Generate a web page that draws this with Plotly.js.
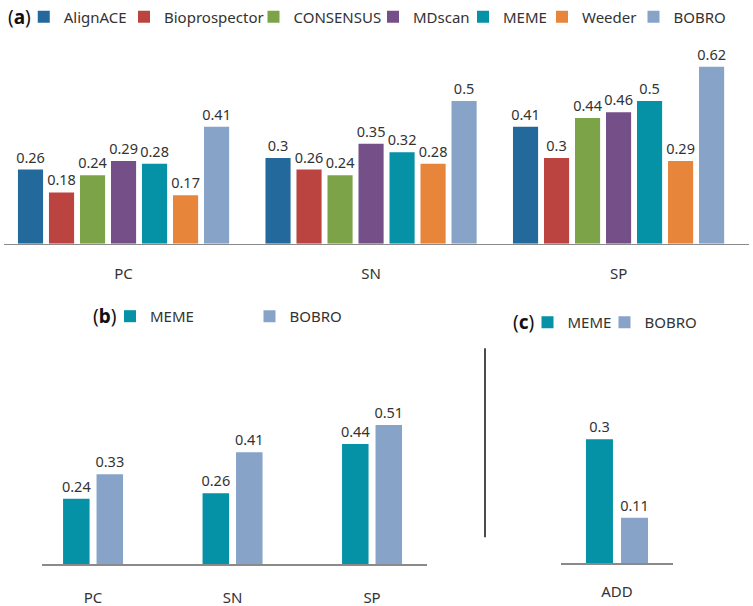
<!DOCTYPE html>
<html>
<head>
<meta charset="utf-8">
<script src="https://cdn.plot.ly/plotly-3.0.1.min.js"></script>
<style>html,body{margin:0;padding:0;background:#fff;}#chart{width:753px;height:606px;}</style>
</head>
<body>
<div id="chart"></div>
<script>
// ---- Data ----
var categoriesA = ['PC', 'SN', 'SP'];
var methodsA = ['AlignACE', 'Bioprospector', 'CONSENSUS', 'MDscan', 'MEME', 'Weeder', 'BOBRO'];
var alignace      = [0.26, 0.30, 0.41];
var bioprospector = [0.18, 0.26, 0.30];
var consensus     = [0.24, 0.24, 0.44];
var mdscan        = [0.29, 0.35, 0.46];
var memeA         = [0.28, 0.32, 0.50];
var weeder        = [0.17, 0.28, 0.29];
var bobroA        = [0.41, 0.50, 0.62];

var categoriesB = ['PC', 'SN', 'SP'];
var memeB  = [0.24, 0.26, 0.44];
var bobroB = [0.33, 0.41, 0.51];

var categoriesC = ['ADD'];
var memeC  = [0.30];
var bobroC = [0.11];

// ---- Styles ----
var colorsA = ['#23699b', '#bb4441', '#7ca348', '#744f88', '#0591a6', '#e7853a', '#87a3c8'];
var seriesA = [alignace, bioprospector, consensus, mdscan, memeA, weeder, bobroA];
var FONT = 'Noto Sans, Open Sans, sans-serif';
var TXT = '#333333';
var W = 753, H = 606;
function px(x) { return x / W; }
function py(y) { return 1 - y / H; }

var traces = [];
var legendX_A = [23.75, 124, 253.5, 373, 463, 542, 633.5];
seriesA.forEach(function (vals, i) {
  traces.push({
    type: 'bar', x: categoriesA, y: vals, name: methodsA[i],
    xaxis: 'x', yaxis: 'y',
    marker: { color: colorsA[i] },
    text: vals.map(String), textposition: 'outside', constraintext: 'none', cliponaxis: false,
    textfont: { family: FONT, size: 14.5, color: TXT },
    legend: i === 0 ? 'legend' : 'legend' + (i + 1),
    hoverinfo: 'x+y+name'
  });
});

// panel b
var bW = 0.19;
traces.push({
  type: 'bar', x: categoriesB, y: memeB, name: 'MEME', xaxis: 'x2', yaxis: 'y2',
  marker: { color: colorsA[4] }, width: bW, offset: -0.215,
  text: memeB.map(String), textposition: 'outside', constraintext: 'none', cliponaxis: false,
  textfont: { family: FONT, size: 14.5, color: TXT }, legend: 'legend8'
});
traces.push({
  type: 'bar', x: categoriesB, y: bobroB, name: 'BOBRO', xaxis: 'x2', yaxis: 'y2',
  marker: { color: colorsA[6] }, width: bW, offset: 0.025,
  text: bobroB.map(String), textposition: 'outside', constraintext: 'none', cliponaxis: false,
  textfont: { family: FONT, size: 14.5, color: TXT }, legend: 'legend9'
});
// panel c
var cW = 0.241;
traces.push({
  type: 'bar', x: categoriesC, y: memeC, name: 'MEME', xaxis: 'x3', yaxis: 'y3',
  marker: { color: colorsA[4] }, width: cW, offset: -0.277,
  text: memeC.map(String), textposition: 'outside', constraintext: 'none', cliponaxis: false,
  textfont: { family: FONT, size: 14.5, color: TXT }, legend: 'legend10'
});
traces.push({
  type: 'bar', x: categoriesC, y: bobroC, name: 'BOBRO', xaxis: 'x3', yaxis: 'y3',
  marker: { color: colorsA[6] }, width: cW, offset: 0.036,
  text: bobroC.map(String), textposition: 'outside', constraintext: 'none', cliponaxis: false,
  textfont: { family: FONT, size: 14.5, color: TXT }, legend: 'legend11'
});

function xax(domain, range, standoff) {
  return {
    domain: domain, range: range, type: 'category', showline: true, linecolor: '#8a8a8a', linewidth: 1.3,
    ticks: '', showgrid: false, zeroline: false, fixedrange: true,
    ticklabelstandoff: standoff,
    tickfont: { family: FONT, size: 15, color: TXT }
  };
}
function yax(domain, range) {
  return { domain: domain, range: range, visible: false, showgrid: false, zeroline: false, fixedrange: true };
}
function leg(xp, yp) {
  return {
    x: px(xp), y: py(yp), xanchor: 'left', yanchor: 'middle', orientation: 'h',
    bgcolor: 'rgba(0,0,0,0)', borderwidth: 0,
    font: { family: FONT, size: 15, color: TXT }
  };
}

var layout = {
  width: W, height: H, autosize: false,
  margin: { l: 0, r: 0, t: 0, b: 0, pad: 0 },
  paper_bgcolor: '#ffffff', plot_bgcolor: 'rgba(0,0,0,0)',
  barmode: 'group', bargap: 0.123, bargroupgap: 0.19,
  showlegend: true,
  xaxis: xax([px(4), px(749)], [-0.483, 2.527], 16),
  yaxis: yax([py(242), py(41)], [0, 0.7]),
  xaxis2: xax([px(42), px(427)], [-0.366, 2.394], 19),
  yaxis2: Object.assign(yax([py(564), py(372)], [0, 0.7]), { anchor: 'x2' }),
  xaxis3: xax([px(561), px(673)], [-0.5, 0.5], 14),
  yaxis3: Object.assign(yax([py(563), py(355.5)], [0, 0.5]), { anchor: 'x3' }),
  annotations: [
    { text: '(<b>a</b>)', xref: 'paper', yref: 'paper', x: px(6), y: py(14), xanchor: 'left', yanchor: 'middle', showarrow: false, font: { family: FONT, size: 19, color: '#111' } },
    { text: '(<b>b</b>)', xref: 'paper', yref: 'paper', x: px(91), y: py(315), xanchor: 'left', yanchor: 'middle', showarrow: false, font: { family: FONT, size: 19, color: '#111' } },
    { text: '(<b>c</b>)', xref: 'paper', yref: 'paper', x: px(511), y: py(321), xanchor: 'left', yanchor: 'middle', showarrow: false, font: { family: FONT, size: 19, color: '#111' } }
  ],
  shapes: [
    { type: 'line', xref: 'paper', yref: 'paper', x0: px(485), x1: px(485), y0: py(347), y1: py(537), line: { color: '#111', width: 1.5 } }
  ]
};
layout.xaxis2.anchor = 'y2';
layout.xaxis3.anchor = 'y3';

legendX_A.forEach(function (lx, i) {
  layout[i === 0 ? 'legend' : 'legend' + (i + 1)] = leg(lx, 14);
});
layout.legend8 = leg(110, 315);
layout.legend9 = leg(249.5, 315);
layout.legend10 = leg(527.5, 321);
layout.legend11 = leg(604.5, 321);

Plotly.newPlot('chart', traces, layout, { displayModeBar: false, staticPlot: true });
</script>
</body>
</html>
